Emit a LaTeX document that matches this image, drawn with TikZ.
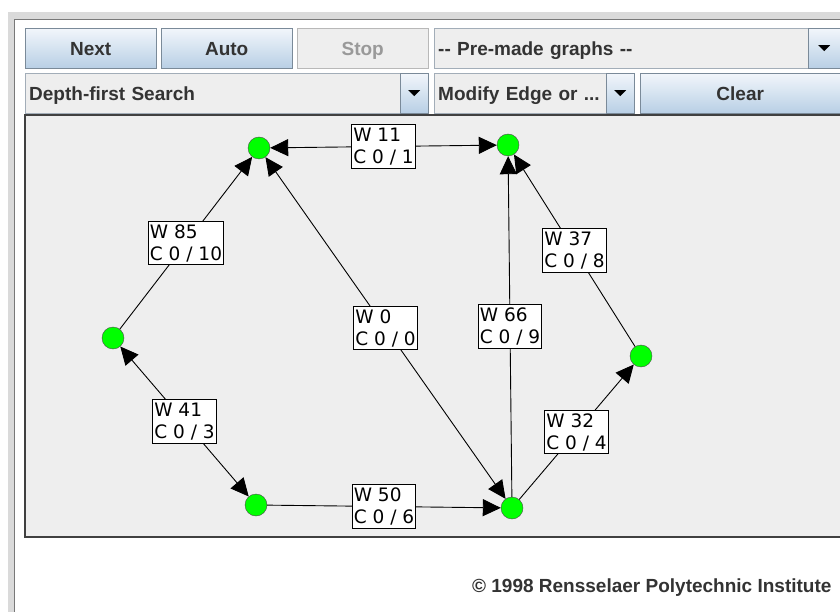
\documentclass[tikz,border=0pt]{standalone}
\usepackage{fontspec}
\setmainfont{Liberation Sans}
\newfontfamily\lblfont{DejaVu Sans}
\usetikzlibrary{arrows.meta}

\definecolor{panelgray}{RGB}{238,238,238}
\definecolor{framegray}{RGB}{218,218,218}
\definecolor{frameline}{RGB}{120,120,120}
\definecolor{btnline}{RGB}{122,138,153}
\definecolor{btntop}{RGB}{242,246,251}
\definecolor{btnbot}{RGB}{184,207,229}
\definecolor{btntext}{RGB}{51,51,51}
\definecolor{offtext}{RGB}{153,153,153}
\definecolor{offline}{RGB}{184,184,184}
\definecolor{vgreen}{RGB}{0,255,0}

\tikzset{
  uifont/.style={font=\bfseries\fontsize{19}{22}\selectfont, text height=16pt, text depth=2pt},
  btn/.style={uifont, draw=btnline, top color=btntop, bottom color=btnbot,
    text=btntext, minimum height=40pt, inner sep=0pt, anchor=north west},
  offbtn/.style={uifont, draw=offline, fill=panelgray, text=offtext,
    minimum height=40pt, inner sep=0pt, anchor=north west},
  combo/.style={uifont, draw=btnline!70, fill=panelgray, text=btntext,
    minimum height=40pt, inner xsep=4pt, inner ysep=0pt, align=left, anchor=north west},
  vert/.style={circle, fill=vgreen, draw=black!70, minimum size=22pt, inner sep=0pt},
  wlbl/.style={draw=black, fill=white, align=left, inner xsep=1.5pt, inner ysep=3pt,
    font=\lblfont\fontsize{18.5}{22}\selectfont},
  edge/.style={draw=black, line width=0.9pt, -{Triangle[length=18pt,width=17pt]}},
  twoway/.style={edge, {Triangle[length=18pt,width=17pt]}-{Triangle[length=18pt,width=17pt]}}
}

\begin{document}
\begin{tikzpicture}[x=1pt,y=-1pt]
  \useasboundingbox (0,0) rectangle (840,612);
  \fill[white] (0,0) rectangle (840,612);

  % window frame
  \fill[framegray] (8,12) rectangle (840,19);
  \fill[framegray] (8,12) rectangle (14,612);
  \draw[frameline] (14.5,612) -- (14.5,19.5) -- (840,19.5);

  % buttons and combo boxes
  \node[btn, minimum width=131pt] (next) at (25,28) {Next};
  \node[btn, minimum width=131pt] (auto) at (161,28) {Auto};
  \node[offbtn, minimum width=131pt] (stop) at (297,28) {Stop};
  \node[combo, minimum width=374pt, text width=366pt] (premade) at (434,28) {-\kern0pt- Pre-made graphs -\kern0pt-};
  \node[btn, minimum width=32pt] (premadearr) at (808,28) {};

  \node[combo, minimum width=375pt, text width=367pt] (algo) at (25,73) {Depth-first Search};
  \node[btn, minimum width=28pt] (algoarr) at (400,73) {};
  \node[combo, minimum width=172pt, text width=164pt] (mode) at (434,73) {Modify Edge or ...};
  \node[btn, minimum width=28pt] (modearr) at (606,73) {};
  \node[btn, minimum width=200pt] (clear) at (640,73) {Clear};

  \foreach \b in {premadearr,algoarr,modearr}
    {
      \fill[black] (\b.center) ++(-6,-3) -- ++(12,0) -- ++(-6,6) -- cycle;
    }

  % canvas
  \fill[panelgray] (25,115) rectangle (840,537);
  \draw[black!75, line width=2pt] (840,115) -- (25,115) -- (25,537) -- (840,537);

  % graph
  \node[vert] (a) at (259,148) {};
  \node[vert] (b) at (508,145) {};
  \node[vert] (c) at (113,338) {};
  \node[vert] (d) at (256,505) {};
  \node[vert] (e) at (512,508) {};
  \node[vert] (f) at (641,356) {};

  \draw[twoway] (a) -- node[wlbl] (wab) {W 11\\C 0 / 1} (b);
  \draw[edge] (c) -- node[wlbl] (wca) {W 85\\C 0 / 10} (a);
  \draw[twoway] (e) -- node[wlbl] (wea) {W 0\\C 0 / 0} (a);
  \draw[edge] (e) -- node[wlbl] (web) {W 66\\C 0 / 9} (b);
  \draw[edge] (f) -- node[wlbl] (wfb) {W 37\\C 0 / 8} (b);
  \draw[edge] (e) -- node[wlbl] (wef) {W 32\\C 0 / 4} (f);
  \draw[twoway] (c) -- node[wlbl] (wcd) {W 41\\C 0 / 3} (d);
  \draw[edge] (d) -- node[wlbl] (wde) {W 50\\C 0 / 6} (e);

  \node[font=\bfseries\fontsize{19}{22}\selectfont, text=btntext, anchor=base east] (copy) at (835,592)
    {\textcopyright{} 1998 Rensselaer Polytechnic Institute};
\end{tikzpicture}
\end{document}
